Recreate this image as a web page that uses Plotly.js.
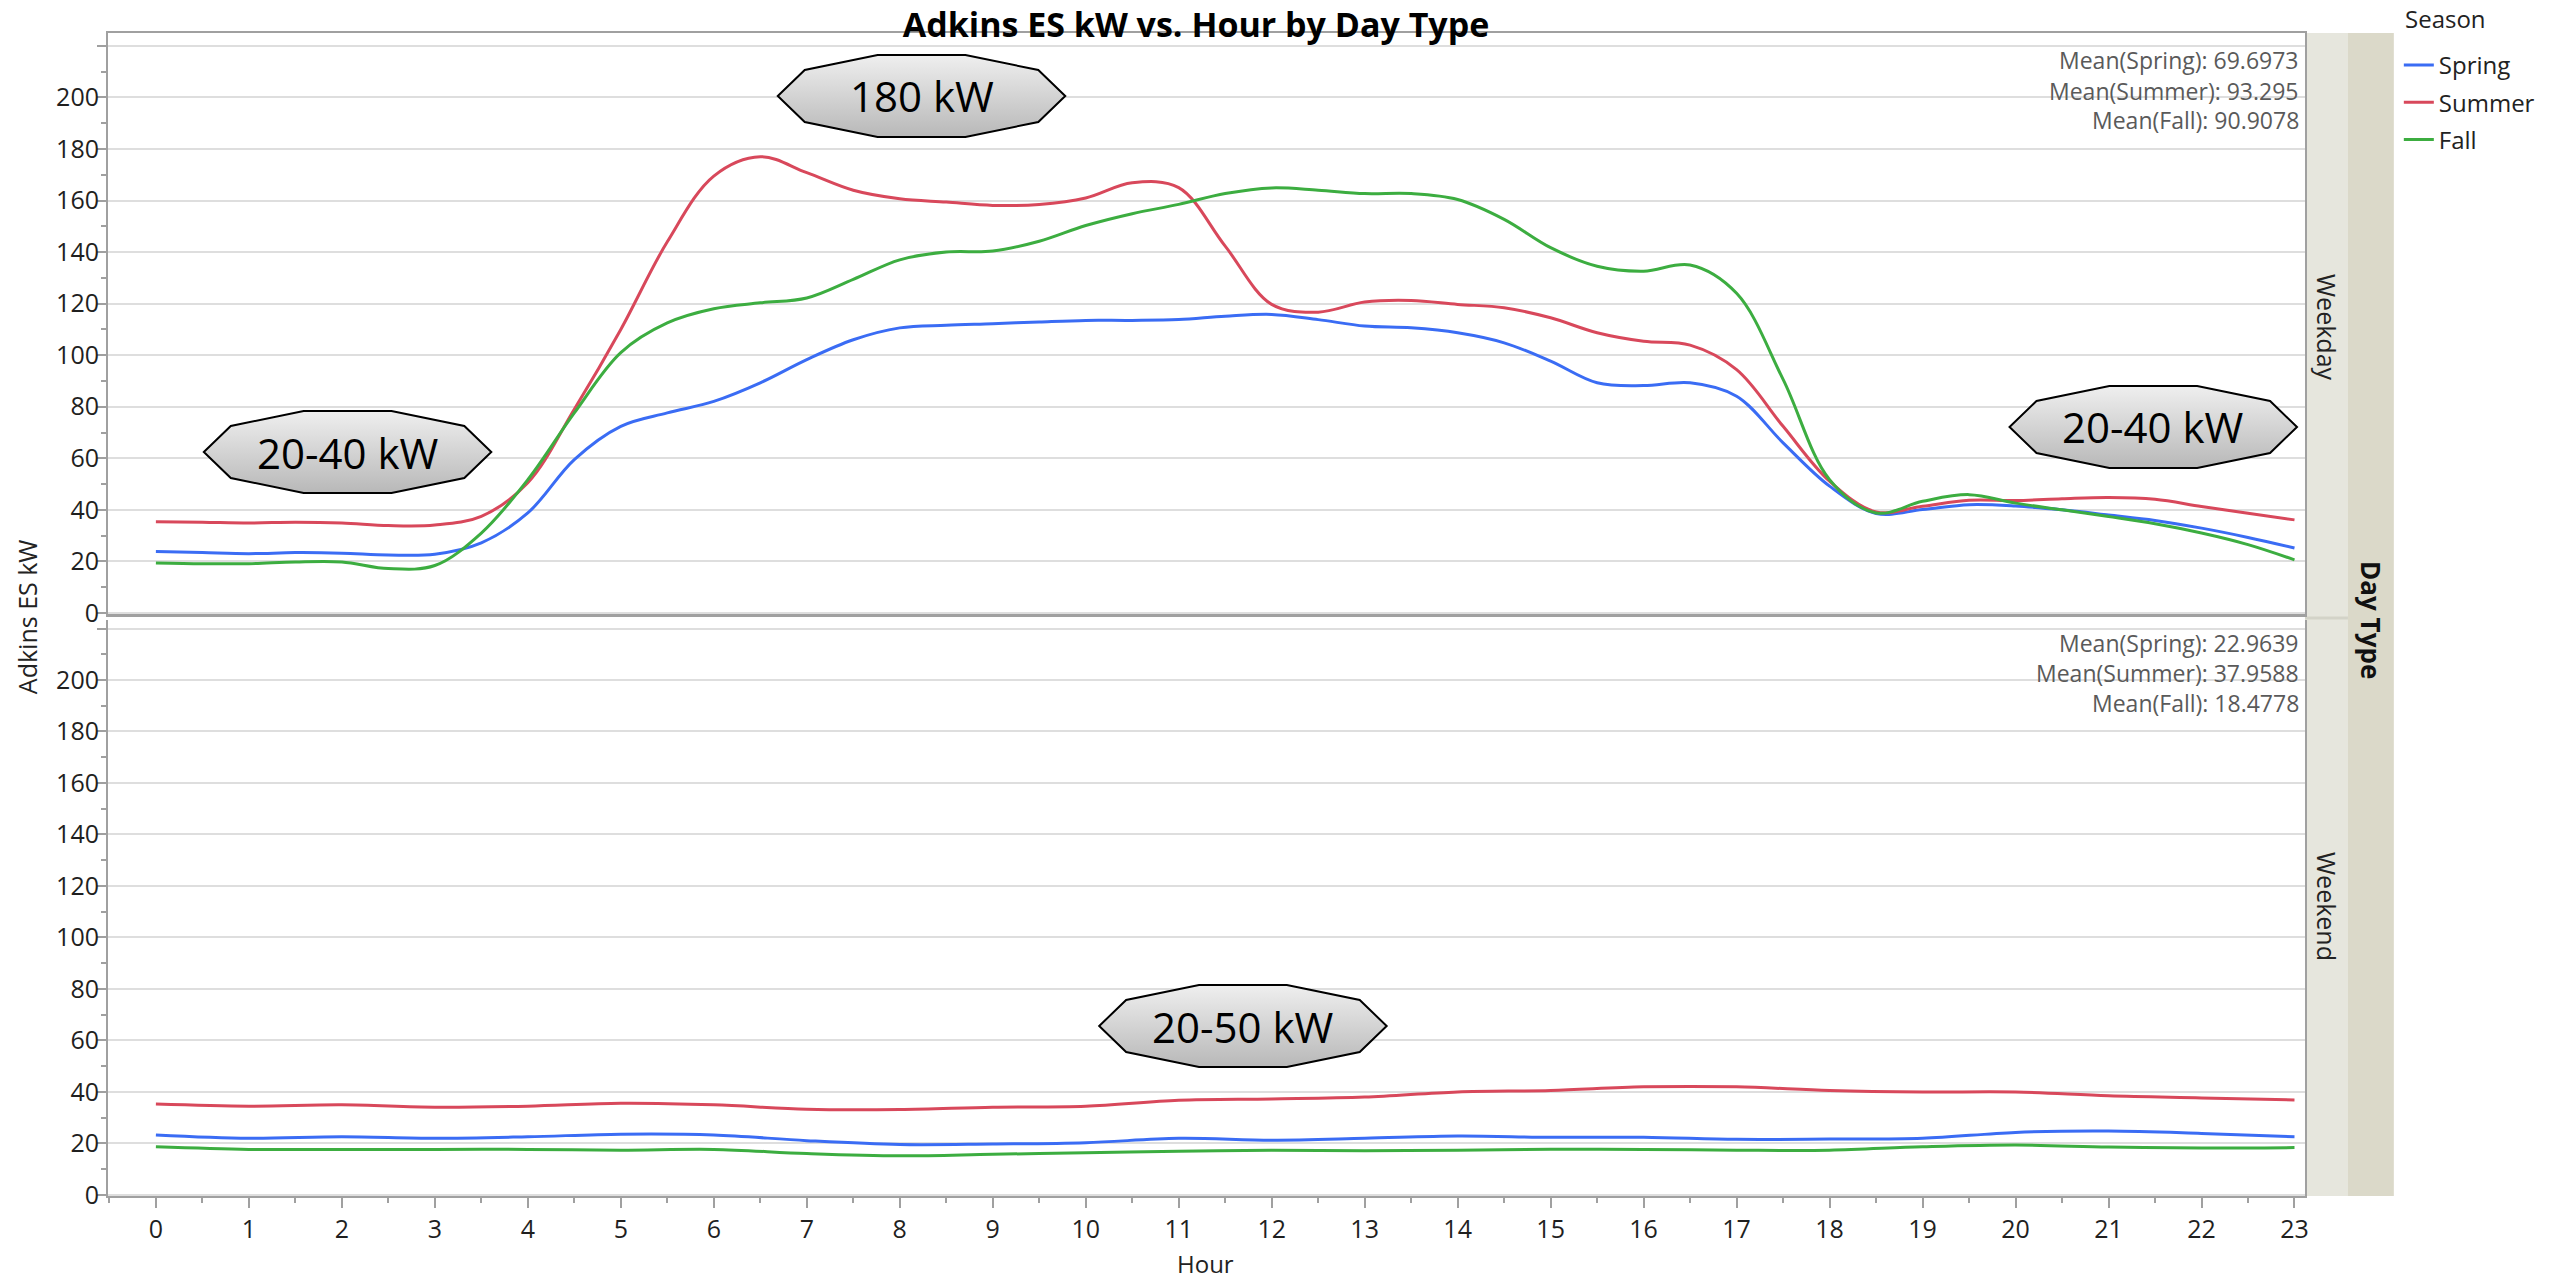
<!DOCTYPE html>
<html>
<head>
<meta charset="utf-8">
<script src="https://cdn.plot.ly/plotly-3.0.1.min.js"></script>
<style>html,body{margin:0;padding:0;background:#fff;}#chart{width:2552px;height:1279px;}</style>
</head>
<body>
<div id="chart"></div>
<script>
// ---------------- data ----------------
const seasons = ['Spring', 'Summer', 'Fall'];
const dayTypes = ['Weekday', 'Weekend'];

const hoursHalf = [0,0.5,1,1.5,2,2.5,3,3.5,4,4.5,5,5.5,6,6.5,7,7.5,8,8.5,9,9.5,10,10.5,11,11.5,12,12.5,13,13.5,14,14.5,15,15.5,16,16.5,17,17.5,18,18.5,19,19.5,20,20.5,21,21.5,22,22.5,23];
const hours = [0,1,2,3,4,5,6,7,8,9,10,11,12,13,14,15,16,17,18,19,20,21,22,23];

const springWeekday = [23.8,23.4,23.0,23.4,23.2,22.5,22.8,27.2,38.8,59.5,72.4,77.6,82.1,89.3,98.3,106.0,110.6,111.6,112.2,112.9,113.5,113.5,113.8,115.1,115.8,113.8,111.3,110.6,108.7,104.8,97.7,89.3,88.2,89.3,84.1,66.0,49.2,38.6,40.1,42.0,41.5,40.0,38.0,35.9,32.9,29.3,25.2];
const summerWeekday = [35.4,35.2,34.9,35.2,34.9,33.9,34.1,37.5,50.5,79.0,110.0,144.0,169.5,177.0,170.8,164.0,160.7,159.4,158.1,158.5,161.0,166.9,165.0,142.3,119.7,116.7,120.6,121.2,119.7,118.4,114.5,108.7,105.4,103.9,94.4,72.4,51.1,39.2,41.4,43.7,43.6,44.3,44.8,44.1,41.3,38.7,36.1];
const fallWeekday = [19.4,19.1,19.1,19.8,19.8,17.2,18.4,31.0,51.7,77.6,101.0,112.5,118.0,120.3,122.2,129.4,137.0,140.0,140.4,144.2,150.3,154.9,158.5,162.7,164.9,164.0,162.7,162.7,160.4,152.7,141.7,134.5,132.6,135.0,124.0,90.6,51.7,38.8,43.3,45.9,42.6,40.0,37.4,34.6,31.0,26.5,20.6];

const springWeekend = [23.3,22.0,22.6,22.0,22.6,23.6,23.3,21.1,19.6,19.8,20.3,22.0,21.3,22.0,22.9,22.4,22.4,21.6,21.7,22.0,24.3,24.8,23.9,22.6];
const summerWeekend = [35.3,34.5,35.0,34.1,34.5,35.6,35.0,33.3,33.2,34.1,34.5,36.8,37.3,38.0,40.0,40.6,42.0,42.0,40.6,40.0,40.0,38.5,37.7,36.9];
const fallWeekend = [18.7,17.7,17.7,17.7,17.7,17.4,17.7,16.1,15.2,15.8,16.4,17.0,17.4,17.2,17.4,17.8,17.7,17.4,17.4,18.7,19.4,18.6,18.2,18.4];

const meanWeekday = ['Mean(Spring): 69.6973', 'Mean(Summer): 93.295', 'Mean(Fall): 90.9078'];
const meanWeekend = ['Mean(Spring): 22.9639', 'Mean(Summer): 37.9588', 'Mean(Fall): 18.4778'];

const yTickVals = [0,20,40,60,80,100,120,140,160,180,200,220];
const yTickText = ['0','20','40','60','80','100','120','140','160','180','200',''];
const yMinorVals = [10,30,50,70,90,110,130,150,170,190,210];
const xTickVals = hours;
const xTickText = ['0','1','2','3','4','5','6','7','8','9','10','11','12','13','14','15','16','17','18','19','20','21','22','23'];

const calloutTexts = ['180 kW', '20-40 kW', '20-40 kW', '20-50 kW'];

// ---------------- layout geometry (pixels) ----------------
const L = 108, R = 2309, T = 33, B = 1196;
const W = R - L, H = B - T;
const px = X => (X - L) / W;
const py = Y => (B - Y) / H;

const colors = {Spring: '#3a6cf4', Summer: '#d8485b', Fall: '#3cad40'};
const weekdaySeries = {Spring: springWeekday, Summer: summerWeekday, Fall: fallWeekday};
const weekendSeries = {Spring: springWeekend, Summer: summerWeekend, Fall: fallWeekend};

const traces = [];
seasons.forEach(s => {
  traces.push({
    type: 'scatter', mode: 'lines', name: s, legendgroup: s, showlegend: true,
    x: hoursHalf, y: weekdaySeries[s], xaxis: 'x', yaxis: 'y',
    line: {color: colors[s], width: 3, shape: 'spline', smoothing: 1},
    hoverinfo: 'skip'
  });
});
seasons.forEach(s => {
  traces.push({
    type: 'scatter', mode: 'lines', name: s, legendgroup: s, showlegend: false,
    x: hours, y: weekendSeries[s], xaxis: 'x2', yaxis: 'y2',
    line: {color: colors[s], width: 3, shape: 'spline', smoothing: 1},
    hoverinfo: 'skip'
  });
});

const gridC = '#dedede', lineC = '#a0a0a0';
const yCommon = {
  tickmode: 'array', tickvals: yTickVals, ticktext: yTickText,
  ticks: 'outside', ticklen: 9, tickwidth: 2, tickcolor: lineC, ticklabelstandoff: -7,
  showgrid: true, gridcolor: gridC, gridwidth: 2, zeroline: false,
  showline: true, mirror: true, linecolor: lineC, linewidth: 2,
  tickfont: {size: 25, color: '#1f1f1f'},
  minor: {tickmode: 'array', tickvals: yMinorVals, ticks: 'outside', ticklen: 5, tickwidth: 2, tickcolor: lineC, showgrid: false}
};
const xRange = [-0.515, 23.113];

// callout shape as SVG image (gradient fill)
const svg = "<svg xmlns='http://www.w3.org/2000/svg' width='292' height='86' viewBox='-2 -2 292 86'>" +
  "<defs><linearGradient id='g' x1='0' y1='0' x2='0' y2='1'><stop offset='0' stop-color='#efefef'/><stop offset='1' stop-color='#b8b8b8'/></linearGradient></defs>" +
  "<polygon points='0,41 27,15 100,0 188,0 261,15 288,41 261,67 188,82 100,82 27,67' fill='url(#g)' stroke='#000' stroke-width='2'/></svg>";
const svgURI = 'data:image/svg+xml;charset=utf-8,' + encodeURIComponent(svg);

const calloutPos = [[779, 55], [204, 411], [2013, 386], [1101, 985]]; // box left/top, px
const images = calloutPos.map(p => ({
  source: svgURI, xref: 'paper', yref: 'paper',
  x: px(p[0] - 2), y: py(p[1] - 2), sizex: 292 / W, sizey: 86 / H,
  sizing: 'stretch', xanchor: 'left', yanchor: 'top', layer: 'above'
}));

const annotations = [];
calloutPos.forEach((p, i) => {
  annotations.push({text: calloutTexts[i], xref: 'paper', yref: 'paper', x: px(p[0] + 144), y: py(p[1] + 41),
    xanchor: 'center', yanchor: 'middle', showarrow: false, font: {size: 42, color: '#000'}});
});
const meanY1 = [60, 91, 120], meanY2 = [643, 673, 703];
meanWeekday.forEach((t, i) => annotations.push({text: t, xref: 'paper', yref: 'paper', x: px(2305), y: py(meanY1[i]),
  xanchor: 'right', yanchor: 'middle', showarrow: false, font: {size: 23, color: '#5a5a5a'}}));
meanWeekend.forEach((t, i) => annotations.push({text: t, xref: 'paper', yref: 'paper', x: px(2305), y: py(meanY2[i]),
  xanchor: 'right', yanchor: 'middle', showarrow: false, font: {size: 23, color: '#5a5a5a'}}));
// strip labels
annotations.push({text: dayTypes[0], xref: 'paper', yref: 'paper', x: px(2331), y: py(327), textangle: 90,
  xanchor: 'center', yanchor: 'middle', showarrow: false, font: {size: 25, color: '#222'}});
annotations.push({text: dayTypes[1], xref: 'paper', yref: 'paper', x: px(2331), y: py(907), textangle: 90,
  xanchor: 'center', yanchor: 'middle', showarrow: false, font: {size: 25, color: '#222'}});
annotations.push({text: '<b>Day Type</b>', xref: 'paper', yref: 'paper', x: px(2375), y: py(620), textangle: 90,
  xanchor: 'center', yanchor: 'middle', showarrow: false, font: {size: 26, color: '#111'}});
// axis titles
annotations.push({text: 'Adkins ES kW', xref: 'paper', yref: 'paper', x: px(27), y: py(617), textangle: -90,
  xanchor: 'center', yanchor: 'middle', showarrow: false, font: {size: 25, color: '#222'}});
annotations.push({text: 'Hour', xref: 'paper', yref: 'paper', x: px(1207), y: py(1263),
  xanchor: 'center', yanchor: 'middle', showarrow: false, font: {size: 24, color: '#222'}});
// legend title
annotations.push({text: 'Season', xref: 'paper', yref: 'paper', x: px(2407), y: py(18),
  xanchor: 'left', yanchor: 'middle', showarrow: false, font: {size: 24, color: '#222'}});

const shapes = [
  {type: 'rect', xref: 'paper', yref: 'paper', x0: 1, x1: px(2352), y0: 0, y1: 1, fillcolor: '#e6e6dd', line: {width: 0}, layer: 'below'},
  {type: 'rect', xref: 'paper', yref: 'paper', x0: px(2352), x1: px(2398), y0: 0, y1: 1, fillcolor: '#dbd9c9', line: {width: 0}, layer: 'below'},
  {type: 'line', xref: 'paper', yref: 'paper', x0: 1, x1: px(2352), y0: py(618), y1: py(618), line: {color: '#d3d3c8', width: 3}, layer: 'below'},
  {type: 'line', xref: 'paper', yref: 'paper', x0: 0, x1: 1, y0: py(615.5), y1: py(615.5), line: {color: lineC, width: 3}}
];

const layout = {
  width: 2552, height: 1279,
  margin: {l: L, r: 2552 - R, t: T, b: 1279 - B, pad: 0},
  paper_bgcolor: '#ffffff', plot_bgcolor: '#ffffff',
  font: {family: 'Open Sans, sans-serif', color: '#1f1f1f'},
  title: {text: '<b>Adkins ES kW vs. Hour by Day Type</b>', xref: 'container', yref: 'container',
    x: 1196 / 2552, y: 1 - 25 / 1279, xanchor: 'center', yanchor: 'middle', font: {size: 34, color: '#000'}},
  showlegend: true,
  legend: {x: px(2403), xanchor: 'left', y: py(43), yanchor: 'top', font: {size: 24, color: '#222'},
    tracegroupgap: 3, bgcolor: 'rgba(0,0,0,0)', borderwidth: 0, traceorder: 'grouped'},
  xaxis: {domain: [0, 1], anchor: 'y', range: xRange, showticklabels: false, ticks: '', showgrid: false,
    zeroline: false, showline: true, mirror: true, linecolor: lineC, linewidth: 2},
  xaxis2: {domain: [0, 1], anchor: 'y2', range: xRange, tickmode: 'array', tickvals: xTickVals, ticktext: xTickText,
    ticks: 'outside', ticklen: 10, tickwidth: 2, tickcolor: lineC, showgrid: false, zeroline: false,
    showline: true, mirror: false, linecolor: lineC, linewidth: 2, tickfont: {size: 25, color: '#1f1f1f'},
    minor: {tickmode: 'linear', tick0: 0.5, dtick: 1, ticks: 'outside', ticklen: 5, tickwidth: 2, tickcolor: lineC, showgrid: false}},
  yaxis: Object.assign({}, yCommon, {domain: [py(615), 1], anchor: 'x', range: [-0.8, 225]}),
  yaxis2: Object.assign({}, yCommon, {domain: [0, py(620)], anchor: 'x2', range: [-0.4, 223.3]}),
  shapes: shapes,
  images: images,
  annotations: annotations
};

Plotly.newPlot('chart', traces, layout, {displayModeBar: false, staticPlot: true});
</script>
</body>
</html>
